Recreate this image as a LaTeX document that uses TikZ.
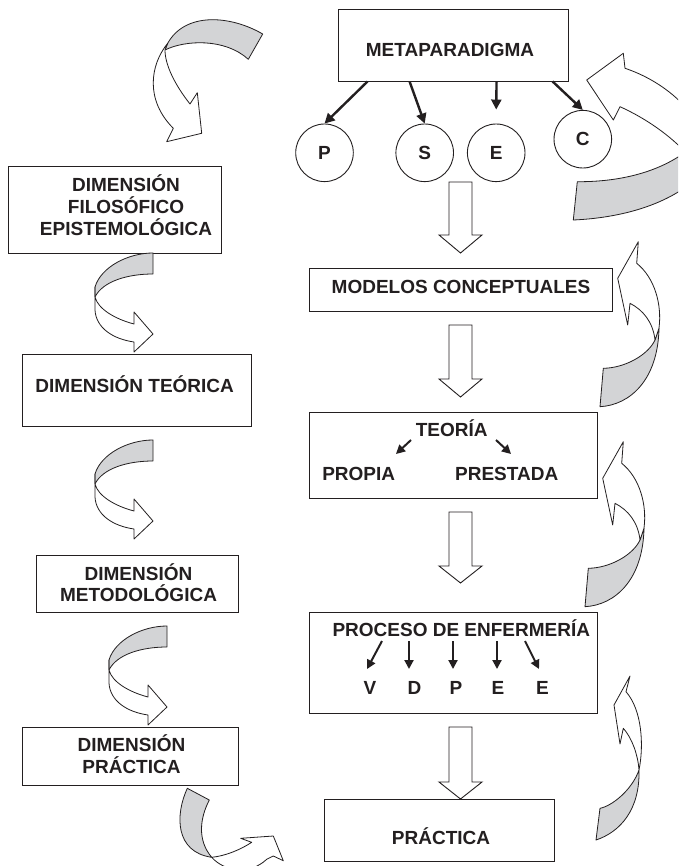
\documentclass[tikz,border=0pt]{standalone}
\usepackage{fontspec}
\setmainfont{Liberation Sans}
\usetikzlibrary{arrows.meta}
\definecolor{ink}{RGB}{35,31,32}
\definecolor{ribbon}{RGB}{211,212,214}
\newcommand\ribL{%
 \path[ribg] (0,0) .. controls (-25,0) and (-52,14) .. (-58,34) -- (-58,44) .. controls (-50,28) and (-25,21) .. (0,21) -- cycle;
 \path[ribw] (-58,34) -- (-58,57) .. controls (-57,75) and (-40,86) .. (-19,89) -- (-19,99) -- (0,81) -- (-19,59) -- (-19,71) .. controls (-38,66) and (-55,56) .. (-58,44) -- cycle;}
\newcommand\ribR{%
 \path[ribg] (640,540) .. controls (633,555) and (610,568) .. (588.3,568.3) -- (585,606.7) .. controls (615,605) and (643,580) .. (644,528) -- cycle;
 \path[ribw] (623.3,441.7) -- (602.7,478.3) -- (612.7,525) -- (615,503.3) .. controls (628,510) and (638,522) .. (640,540) -- (644,528) .. controls (647,505) and (640,478) .. (621.7,463.3) -- cycle;}
\newcommand\hol[3]{\path[hollow] (449,#1) -- (472,#1) -- (472,#2) -- (482,#2) -- (460.5,#3) -- (439,#2) -- (449,#2) -- cycle;}
\begin{document}
\begin{tikzpicture}[x=1pt,y=-1pt,
  box/.style={draw=ink, line width=0.9pt, fill=white, inner sep=0pt},
  lbl/.style={text=ink, font=\fontsize{19}{21.7}\selectfont\bfseries, inner sep=0pt, text height=13.6pt, text depth=0pt, align=center},
  lbltwo/.style={lbl, text height=35.3pt},
  lblthree/.style={lbl, text height=57pt},
  circ/.style={circle, draw=ink, line width=0.9pt, minimum size=57.6pt, inner sep=0pt, text=ink, font=\fontsize{19}{21.7}\selectfont\bfseries, text height=13.6pt, text depth=0pt},
  bar/.style={draw=ink, line width=2.4pt, -{Triangle[length=10pt,width=10pt]}},
  sbar/.style={draw=ink, line width=2pt, -{Triangle[length=9pt,width=9pt]}},
  hollow/.style={draw=ink, line width=0.9pt, fill=white, line join=miter},
  rib/.style={draw=ink, line width=0.8pt, line join=round},
  ribg/.style={rib, fill=ribbon},
  ribw/.style={rib, fill=white}]
\useasboundingbox (0,0) rectangle (678,866);
\fill[white] (0,0) rectangle (678,866);
\clip (0,0) rectangle (678,866);

% ---------- right column boxes ----------
\node[box, minimum width=230pt, minimum height=72pt] (meta) at (453,45) {};
\node[lbl] (metaT) at (450,49.5) {METAPARADIGMA};

\node[circ] (P) at (324.5,152.8) {P};
\node[circ] (S) at (424.7,152.8) {S};
\node[circ] (E) at (496.2,152.8) {E};
\node[circ] (C) at (582.8,139.2) {C};

\path (meta.south west) ++(30,0) coordinate (mP)
      (meta.south west) ++(72,0) coordinate (mS)
      (meta.south west) ++(159,0) coordinate (mE)
      (meta.south west) ++(215,0) coordinate (mC);
\draw[bar] (mP) -- (P.north);
\draw[bar] (mS) -- (S.north);
\draw[bar] (mE) -- ([yshift=14pt]E.north);
\draw[bar] (mC) -- (C.north);

\node[box, minimum width=303pt, minimum height=43pt] (mod) at (460.5,289.5) {};
\node[lbl] (modT) at (461,286.7) {MODELOS CONCEPTUALES};

\node[box, minimum width=288pt, minimum height=86pt] (teo) at (453,455) {};
\node[lbl] (teoT) at (451.7,429.3) {TEORÍA};
\node[lbl] (prop) at (358.7,473.3) {PROPIA};
\node[lbl] (pres) at (506.7,473.3) {PRESTADA};
\coordinate (ta1) at (411,440); \coordinate (ta2) at (396,454);
\coordinate (tb1) at (496,440); \coordinate (tb2) at (511,454);
\draw[sbar] (ta1) -- (ta2);
\draw[sbar] (tb1) -- (tb2);

\node[box, minimum width=288pt, minimum height=101pt] (proc) at (453,662.5) {};
\node[lbl] (procT) at (461.3,630) {PROCESO DE ENFERMERÍA};
\node[lbl] (pv) at (370,687.5) {V};
\node[lbl] (pd) at (414.5,687.5) {D};
\node[lbl] (pp) at (456,687.5) {P};
\node[lbl] (pe) at (498,687.5) {E};
\node[lbl] (pe2) at (542.5,687.5) {E};
\coordinate (v1) at (382,641); \coordinate (v2) at (367,669);
\coordinate (d1) at (409,641); \coordinate (d2) at (409,669);
\coordinate (p1) at (453,641); \coordinate (p2) at (453,669);
\coordinate (e1) at (497,641); \coordinate (e2) at (497,669);
\coordinate (f1) at (525,641); \coordinate (f2) at (539,669);
\draw[sbar] (v1) -- (v2);
\draw[sbar] (d1) -- (d2);
\draw[sbar] (p1) -- (p2);
\draw[sbar] (e1) -- (e2);
\draw[sbar] (f1) -- (f2);

\node[box, minimum width=230pt, minimum height=62pt] (prac) at (439,830) {};
\node[lbl] (pracT) at (441,838) {PRÁCTICA};

% hollow down arrows
\hol{182}{235}{253}
\hol{325}{379}{397}
\hol{512}{566}{583}
\hol{727}{782}{799}

% ---------- left column boxes ----------
\node[box, minimum width=213.4pt, minimum height=86.6pt] (fil) at (115,210) {};
\node[lblthree] (filT) at (126,206.8) {DIMENSIÓN\\FILOSÓFICO\\EPISTEMOLÓGICA};

\node[box, minimum width=229pt, minimum height=72pt] (teod) at (137.2,390) {};
\node[lbl] (teodT) at (134.7,386) {DIMENSIÓN TEÓRICA};

\node[box, minimum width=201.6pt, minimum height=57.7pt] (met) at (137.5,583.85) {};
\node[lbltwo] (metT) at (138.5,584.2) {DIMENSIÓN\\METODOLÓGICA};

\node[box, minimum width=215.6pt, minimum height=57.7pt] (prd) at (130.5,756.15) {};
\node[lbltwo] (prdT) at (131.5,756) {DIMENSIÓN\\PRÁCTICA};

% ---------- left ribbons ----------
\begin{scope}[shift={(153,253)}]\ribL\end{scope}
\begin{scope}[shift={(153,440)}]\ribL\end{scope}
\begin{scope}[shift={(167,626)}]\ribL\end{scope}

% top-left ribbon
\path[ribg] (262.7,34) .. controls (230,15) and (185,12) .. (167.7,43.3) -- (165,50) .. controls (185,40) and (225,38) .. (248.3,59.3) -- cycle;
\path[ribw] (167.7,43.3) .. controls (150,65) and (145,100) .. (173.3,128.3) -- (166.7,141.7) -- (201.7,133.3) -- (197.3,92.7) -- (190,104) .. controls (175,85) and (165,65) .. (165,50) -- cycle;

% bottom ribbon
\path[ribg] (187.3,788.3) -- (209.3,800) .. controls (200,818) and (197,840) .. (211.7,857.3) .. controls (175,852) and (175,815) .. (187.3,788.3) -- cycle;
\path[ribw] (211.7,857.3) .. controls (225,856) and (240,850) .. (251.7,842.3) -- (240.7,838.3) -- (273.3,836) -- (283.3,860.7) -- (273.3,856) -- (266.7,859.3) .. controls (250,875) and (225,872) .. (211.7,857.3) -- cycle;

% ---------- right ribbons ----------
% top-right
\path[ribg] (688,150) .. controls (660,172) and (620,182) .. (577.3,181.7) -- (573.3,220) .. controls (620,218) and (670,205) .. (700,175) -- cycle;
\path[ribw] (623.3,53.3) -- (586.7,80) -- (613.3,120) -- (620,106.7) .. controls (645,118) and (670,135) .. (688,155) -- (700,130) .. controls (690,105) and (660,80) .. (625,68.3) -- cycle;
% second and third
\begin{scope}[shift={(15,-200)}]\ribR\end{scope}
\ribR
% fourth
\path[ribg] (639,770) .. controls (632,790) and (612,806) .. (600,808.3) -- (596,840) .. controls (620,832) and (640,810) .. (639,770) -- cycle;
\path[ribw] (630,676) -- (614,705) -- (620,744) -- (623.3,728.3) .. controls (632,738) and (638,755) .. (639,770) .. controls (644,745) and (642,710) .. (626,691.7) -- cycle;
\end{tikzpicture}
\end{document}
